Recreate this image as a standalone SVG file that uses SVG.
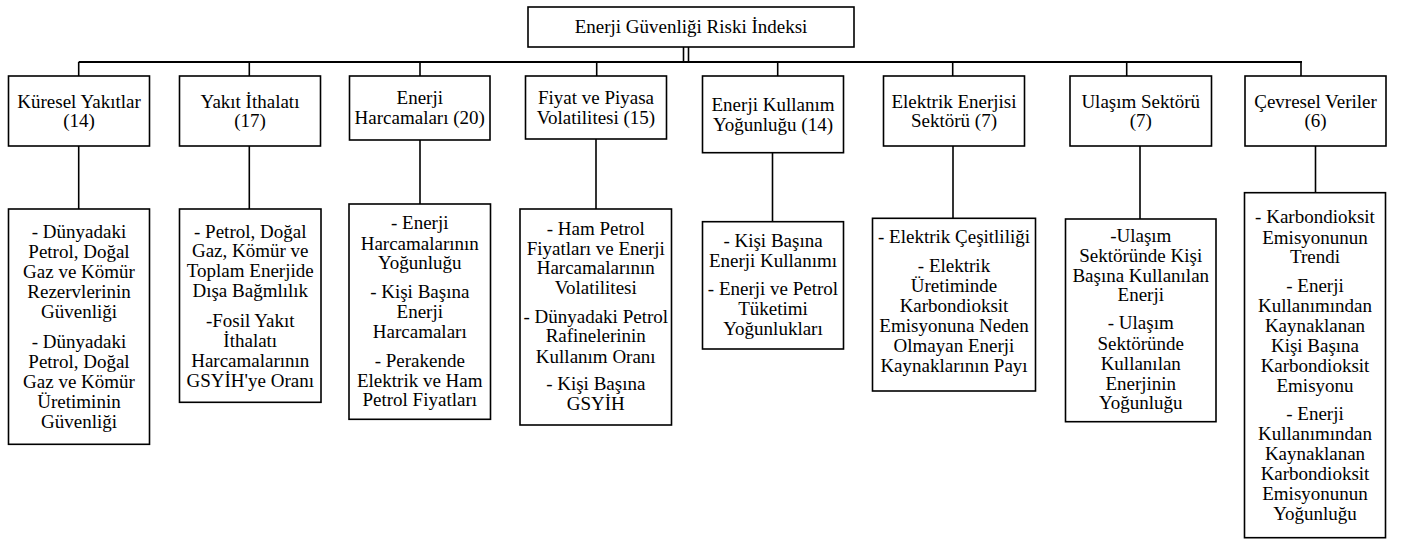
<svg xmlns="http://www.w3.org/2000/svg" width="1408" height="540" viewBox="0 0 1408 540">
<defs>
<style>
.box{fill:#fff;stroke:#000;stroke-width:1.6}
.ln{stroke:#000;stroke-width:1.6;fill:none}
.bus{stroke:#000;stroke-width:2.2;fill:none}
</style>
</defs>
<rect width="1408" height="540" fill="#fff"/>
<g id="connectors">
<line class="bus" x1="78.7" y1="62" x2="1302" y2="62"/>
<line class="ln" x1="683.5" y1="47" x2="683.5" y2="62" stroke-width="2.6"/>
<line class="ln" x1="688.5" y1="47" x2="688.5" y2="62" stroke-width="2.6"/>
<line class="ln" x1="78.7" y1="62" x2="78.7" y2="76"/>
<line class="ln" x1="249.3" y1="62" x2="249.3" y2="76"/>
<line class="ln" x1="420" y1="62" x2="420" y2="76"/>
<line class="ln" x1="596.7" y1="62" x2="596.7" y2="76"/>
<line class="ln" x1="777.7" y1="62" x2="777.7" y2="76"/>
<line class="ln" x1="952.7" y1="62" x2="952.7" y2="76"/>
<line class="ln" x1="1126.7" y1="62" x2="1126.7" y2="76"/>
<line class="ln" x1="1301" y1="62" x2="1301" y2="76"/>
<line class="ln" x1="78.7" y1="146" x2="78.7" y2="209"/>
<line class="ln" x1="249.3" y1="146" x2="249.3" y2="209"/>
<line class="ln" x1="420" y1="140" x2="420" y2="204"/>
<line class="ln" x1="596" y1="139" x2="596" y2="209"/>
<line class="ln" x1="772.5" y1="152.7" x2="772.5" y2="221.7"/>
<line class="ln" x1="953" y1="146" x2="953" y2="218.3"/>
<line class="ln" x1="1140" y1="146" x2="1140" y2="219"/>
<line class="ln" x1="1315.5" y1="146" x2="1315.5" y2="192.7"/>
</g>
<g id="root">
<rect class="box" x="528" y="7" width="326" height="40"/>
<text font-family="Liberation Serif" font-size="19" text-anchor="middle" x="691" y="33">Enerji Güvenliği Riski İndeksi</text>
</g>
<g id="n1">
<rect class="box" x="8.5" y="76" width="141" height="70"/>
<text font-family="Liberation Serif" font-size="19" text-anchor="middle" x="79" y="107.5">Küresel Yakıtlar</text>
<text font-family="Liberation Serif" font-size="19" text-anchor="middle" x="79" y="127">(14)</text>
</g>
<g id="n2">
<rect class="box" x="179.5" y="76" width="141" height="70"/>
<text font-family="Liberation Serif" font-size="19" text-anchor="middle" x="250" y="107.5">Yakıt İthalatı</text>
<text font-family="Liberation Serif" font-size="19" text-anchor="middle" x="250" y="127">(17)</text>
</g>
<g id="n3">
<rect class="box" x="349.5" y="76" width="140.5" height="64"/>
<text font-family="Liberation Serif" font-size="19" text-anchor="middle" x="419.75" y="103.5">Enerji</text>
<text font-family="Liberation Serif" font-size="19" text-anchor="middle" x="419.75" y="124">Harcamaları (20)</text>
</g>
<g id="n4">
<rect class="box" x="525.5" y="76" width="141" height="63"/>
<text font-family="Liberation Serif" font-size="19" text-anchor="middle" x="596" y="103.5">Fiyat ve Piyasa</text>
<text font-family="Liberation Serif" font-size="19" text-anchor="middle" x="596" y="123.5">Volatilitesi (15)</text>
</g>
<g id="n5">
<rect class="box" x="702.5" y="76" width="141" height="76.7"/>
<text font-family="Liberation Serif" font-size="19" text-anchor="middle" x="773" y="110.7">Enerji Kullanım</text>
<text font-family="Liberation Serif" font-size="19" text-anchor="middle" x="773" y="130.7">Yoğunluğu (14)</text>
</g>
<g id="n6">
<rect class="box" x="883.5" y="76" width="141" height="70"/>
<text font-family="Liberation Serif" font-size="19" text-anchor="middle" x="954" y="107.5">Elektrik Enerjisi</text>
<text font-family="Liberation Serif" font-size="19" text-anchor="middle" x="954" y="127">Sektörü (7)</text>
</g>
<g id="n7">
<rect class="box" x="1070" y="76" width="141.5" height="70"/>
<text font-family="Liberation Serif" font-size="19" text-anchor="middle" x="1140.75" y="107.5">Ulaşım Sektörü</text>
<text font-family="Liberation Serif" font-size="19" text-anchor="middle" x="1140.75" y="127">(7)</text>
</g>
<g id="n8">
<rect class="box" x="1245" y="76" width="141" height="70"/>
<text font-family="Liberation Serif" font-size="19" text-anchor="middle" x="1315.5" y="107.5">Çevresel Veriler</text>
<text font-family="Liberation Serif" font-size="19" text-anchor="middle" x="1315.5" y="127">(6)</text>
</g>
<g id="c1">
<rect class="box" x="8.5" y="209" width="141" height="235.3"/>
<text font-family="Liberation Serif" font-size="19" text-anchor="middle" x="79" y="237.7">- Dünyadaki</text>
<text font-family="Liberation Serif" font-size="19" text-anchor="middle" x="79" y="257.7">Petrol, Doğal</text>
<text font-family="Liberation Serif" font-size="19" text-anchor="middle" x="79" y="277.7">Gaz ve Kömür</text>
<text font-family="Liberation Serif" font-size="19" text-anchor="middle" x="79" y="297.7">Rezervlerinin</text>
<text font-family="Liberation Serif" font-size="19" text-anchor="middle" x="79" y="317.7">Güvenliği</text>
<text font-family="Liberation Serif" font-size="19" text-anchor="middle" x="79" y="347.7">- Dünyadaki</text>
<text font-family="Liberation Serif" font-size="19" text-anchor="middle" x="79" y="367.7">Petrol, Doğal</text>
<text font-family="Liberation Serif" font-size="19" text-anchor="middle" x="79" y="387.7">Gaz ve Kömür</text>
<text font-family="Liberation Serif" font-size="19" text-anchor="middle" x="79" y="407.7">Üretiminin</text>
<text font-family="Liberation Serif" font-size="19" text-anchor="middle" x="79" y="427.7">Güvenliği</text>
</g>
<g id="c2">
<rect class="box" x="179.5" y="209" width="141.5" height="193.3"/>
<text font-family="Liberation Serif" font-size="19" text-anchor="middle" x="250.25" y="237.7">- Petrol, Doğal</text>
<text font-family="Liberation Serif" font-size="19" text-anchor="middle" x="250.25" y="257.2">Gaz, Kömür ve</text>
<text font-family="Liberation Serif" font-size="19" text-anchor="middle" x="250.25" y="277.3">Toplam Enerjide</text>
<text font-family="Liberation Serif" font-size="19" text-anchor="middle" x="250.25" y="297.3">Dışa Bağmlılık</text>
<text font-family="Liberation Serif" font-size="19" text-anchor="middle" x="250.25" y="326.7">-Fosil Yakıt</text>
<text font-family="Liberation Serif" font-size="19" text-anchor="middle" x="250.25" y="346.7">İthalatı</text>
<text font-family="Liberation Serif" font-size="19" text-anchor="middle" x="250.25" y="366.7">Harcamalarının</text>
<text font-family="Liberation Serif" font-size="19" text-anchor="middle" x="250.25" y="386.7">GSYİH'ye Oranı</text>
</g>
<g id="c3">
<rect class="box" x="349" y="204" width="141.5" height="215.3"/>
<text font-family="Liberation Serif" font-size="19" text-anchor="middle" x="419.75" y="229.3">- Enerji</text>
<text font-family="Liberation Serif" font-size="19" text-anchor="middle" x="419.75" y="249.5">Harcamalarının</text>
<text font-family="Liberation Serif" font-size="19" text-anchor="middle" x="419.75" y="269.3">Yoğunluğu</text>
<text font-family="Liberation Serif" font-size="19" text-anchor="middle" x="419.75" y="298.3">- Kişi Başına</text>
<text font-family="Liberation Serif" font-size="19" text-anchor="middle" x="419.75" y="318.3">Enerji</text>
<text font-family="Liberation Serif" font-size="19" text-anchor="middle" x="419.75" y="338.3">Harcamaları</text>
<text font-family="Liberation Serif" font-size="19" text-anchor="middle" x="419.75" y="366.7">- Perakende</text>
<text font-family="Liberation Serif" font-size="19" text-anchor="middle" x="419.75" y="386.7">Elektrik ve Ham</text>
<text font-family="Liberation Serif" font-size="19" text-anchor="middle" x="419.75" y="406.3">Petrol Fiyatları</text>
</g>
<g id="c4">
<rect class="box" x="520" y="209" width="151.5" height="216"/>
<text font-family="Liberation Serif" font-size="19" text-anchor="middle" x="595.75" y="235">- Ham Petrol</text>
<text font-family="Liberation Serif" font-size="19" text-anchor="middle" x="595.75" y="255">Fiyatları ve Enerji</text>
<text font-family="Liberation Serif" font-size="19" text-anchor="middle" x="595.75" y="273.8">Harcamalarının</text>
<text font-family="Liberation Serif" font-size="19" text-anchor="middle" x="595.75" y="293.5">Volatilitesi</text>
<text font-family="Liberation Serif" font-size="19" text-anchor="middle" x="595.75" y="322.7">- Dünyadaki Petrol</text>
<text font-family="Liberation Serif" font-size="19" text-anchor="middle" x="595.75" y="342">Rafinelerinin</text>
<text font-family="Liberation Serif" font-size="19" text-anchor="middle" x="595.75" y="362.5">Kullanım Oranı</text>
<text font-family="Liberation Serif" font-size="19" text-anchor="middle" x="595.75" y="390">- Kişi Başına</text>
<text font-family="Liberation Serif" font-size="19" text-anchor="middle" x="595.75" y="410">GSYİH</text>
</g>
<g id="c5">
<rect class="box" x="702.5" y="221.7" width="141" height="127.3"/>
<text font-family="Liberation Serif" font-size="19" text-anchor="middle" x="773" y="247.3">- Kişi Başına</text>
<text font-family="Liberation Serif" font-size="19" text-anchor="middle" x="773" y="266.7">Enerji Kullanımı</text>
<text font-family="Liberation Serif" font-size="19" text-anchor="middle" x="773" y="295">- Enerji ve Petrol</text>
<text font-family="Liberation Serif" font-size="19" text-anchor="middle" x="773" y="315">Tüketimi</text>
<text font-family="Liberation Serif" font-size="19" text-anchor="middle" x="773" y="335">Yoğunlukları</text>
</g>
<g id="c6">
<rect class="box" x="872.5" y="218.3" width="163" height="172.7"/>
<text font-family="Liberation Serif" font-size="19" text-anchor="middle" x="954" y="243.3">- Elektrik Çeşitliliği</text>
<text font-family="Liberation Serif" font-size="19" text-anchor="middle" x="954" y="271.7">- Elektrik</text>
<text font-family="Liberation Serif" font-size="19" text-anchor="middle" x="954" y="291.7">Üretiminde</text>
<text font-family="Liberation Serif" font-size="19" text-anchor="middle" x="954" y="311.7">Karbondioksit</text>
<text font-family="Liberation Serif" font-size="19" text-anchor="middle" x="954" y="331.7">Emisyonuna Neden</text>
<text font-family="Liberation Serif" font-size="19" text-anchor="middle" x="954" y="351.7">Olmayan Enerji</text>
<text font-family="Liberation Serif" font-size="19" text-anchor="middle" x="954" y="371.7">Kaynaklarının Payı</text>
</g>
<g id="c7">
<rect class="box" x="1065.5" y="219" width="150.5" height="202.7"/>
<text font-family="Liberation Serif" font-size="19" text-anchor="middle" x="1140.75" y="241.7">-Ulaşım</text>
<text font-family="Liberation Serif" font-size="19" text-anchor="middle" x="1140.75" y="261.7">Sektöründe Kişi</text>
<text font-family="Liberation Serif" font-size="19" text-anchor="middle" x="1140.75" y="281.7">Başına Kullanılan</text>
<text font-family="Liberation Serif" font-size="19" text-anchor="middle" x="1140.75" y="301">Enerji</text>
<text font-family="Liberation Serif" font-size="19" text-anchor="middle" x="1140.75" y="329.3">- Ulaşım</text>
<text font-family="Liberation Serif" font-size="19" text-anchor="middle" x="1140.75" y="349.7">Sektöründe</text>
<text font-family="Liberation Serif" font-size="19" text-anchor="middle" x="1140.75" y="369.7">Kullanılan</text>
<text font-family="Liberation Serif" font-size="19" text-anchor="middle" x="1140.75" y="389.7">Enerjinin</text>
<text font-family="Liberation Serif" font-size="19" text-anchor="middle" x="1140.75" y="409.3">Yoğunluğu</text>
</g>
<g id="c8">
<rect class="box" x="1244.5" y="192.7" width="141" height="345"/>
<text font-family="Liberation Serif" font-size="19" text-anchor="middle" x="1315" y="223.3">- Karbondioksit</text>
<text font-family="Liberation Serif" font-size="19" text-anchor="middle" x="1315" y="243.7">Emisyonunun</text>
<text font-family="Liberation Serif" font-size="19" text-anchor="middle" x="1315" y="263.3">Trendi</text>
<text font-family="Liberation Serif" font-size="19" text-anchor="middle" x="1315" y="291.7">- Enerji</text>
<text font-family="Liberation Serif" font-size="19" text-anchor="middle" x="1315" y="311.7">Kullanımından</text>
<text font-family="Liberation Serif" font-size="19" text-anchor="middle" x="1315" y="331.7">Kaynaklanan</text>
<text font-family="Liberation Serif" font-size="19" text-anchor="middle" x="1315" y="351.7">Kişi Başına</text>
<text font-family="Liberation Serif" font-size="19" text-anchor="middle" x="1315" y="371.7">Karbondioksit</text>
<text font-family="Liberation Serif" font-size="19" text-anchor="middle" x="1315" y="391.7">Emisyonu</text>
<text font-family="Liberation Serif" font-size="19" text-anchor="middle" x="1315" y="420">- Enerji</text>
<text font-family="Liberation Serif" font-size="19" text-anchor="middle" x="1315" y="440">Kullanımından</text>
<text font-family="Liberation Serif" font-size="19" text-anchor="middle" x="1315" y="460">Kaynaklanan</text>
<text font-family="Liberation Serif" font-size="19" text-anchor="middle" x="1315" y="480">Karbondioksit</text>
<text font-family="Liberation Serif" font-size="19" text-anchor="middle" x="1315" y="500">Emisyonunun</text>
<text font-family="Liberation Serif" font-size="19" text-anchor="middle" x="1315" y="520">Yoğunluğu</text>
</g>
</svg>
